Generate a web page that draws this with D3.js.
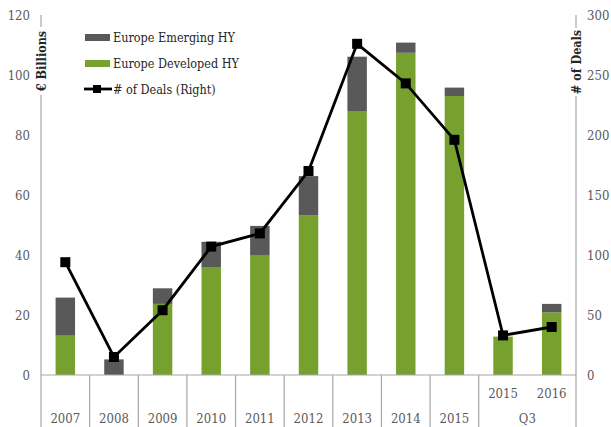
<!DOCTYPE html>
<html>
<head>
<meta charset="utf-8">
<script src="https://cdn.jsdelivr.net/npm/d3@7"></script>
<style>
  body { margin: 0; background: #fff; }
  svg { display: block; }
</style>
</head>
<body>
<script>
// chart values
const categories = ['2007', '2008', '2009', '2010', '2011', '2012', '2013', '2014', '2015', 'Q3 2015', 'Q3 2016']
const mainLabels = ['2007', '2008', '2009', '2010', '2011', '2012', '2013', '2014', '2015']
const q3Labels = ['2015', '2016']
const developed = [13.1, 0, 23.7, 35.8, 40, 53.3, 88, 107.4, 93, 12.8, 20.9]
const emerging = [12.7, 5.2, 5.2, 8.6, 9.7, 13, 18.1, 3.4, 2.8, 0, 2.8]
const deals = [94, 15, 54, 107, 118, 170, 276, 243, 196, 33, 40]
const leftTicks = [0, 20, 40, 60, 80, 100, 120]
const rightTicks = [0, 50, 100, 150, 200, 250, 300]

const W = 611, H = 427
const m = { left: 41, right: 576, top: 15, bottom: 375 }
const green = '#76a12f', grey = '#595959'
const font = "'DejaVu Serif Condensed', 'Liberation Serif', serif"

const svg = d3.select('body').append('svg')
    .attr('width', W)
    .attr('height', H)
    .style('font-family', font)

const x = d3.scaleBand().domain(categories).range([m.left, m.right]).paddingInner(0.6).paddingOuter(0.3)
const band = d3.scaleBand().domain(categories).range([m.left, m.right])
const y = d3.scaleLinear().domain([0, 120]).range([m.bottom, m.top])
const y2 = d3.scaleLinear().domain([0, 300]).range([m.bottom, m.top])

// bars
const stacked = categories.map((c, i) => ({ c, dev: developed[i], em: emerging[i] }))
svg.append('g').selectAll('rect')
    .data(stacked)
    .join('rect')
    .attr('x', d => x(d.c))
    .attr('width', x.bandwidth())
    .attr('y', d => y(d.dev))
    .attr('height', d => y(0) - y(d.dev))
    .attr('fill', green)

svg.append('g').selectAll('rect')
    .data(stacked.filter(d => d.em > 0))
    .join('rect')
    .attr('x', d => x(d.c))
    .attr('width', x.bandwidth())
    .attr('y', d => y(d.dev + d.em))
    .attr('height', d => y(d.dev) - y(d.dev + d.em))
    .attr('fill', grey)

// axes lines
svg.append('line').attr('x1', m.left).attr('x2', m.left).attr('y1', m.top).attr('y2', H)
    .attr('stroke', '#a6a6a6').attr('stroke-width', 1.2)
svg.append('line').attr('x1', m.right).attr('x2', m.right).attr('y1', m.top).attr('y2', H)
    .attr('stroke', '#a6a6a6').attr('stroke-width', 1.2)
svg.append('line').attr('x1', m.left).attr('x2', m.right).attr('y1', m.bottom).attr('y2', m.bottom)
    .attr('stroke', '#a6a6a6').attr('stroke-width', 1.2)

// category dividers (none inside the Q3 group)
const dividers = categories.slice(1).filter(c => c !== 'Q3 2016')
svg.append('g').selectAll('line')
    .data(dividers)
    .join('line')
    .attr('x1', d => band(d)).attr('x2', d => band(d))
    .attr('y1', m.bottom).attr('y2', H)
    .attr('stroke', '#a6a6a6').attr('stroke-width', 1.2)

// tick labels
const tickSize = 13
svg.append('g').selectAll('text')
    .data(leftTicks)
    .join('text')
    .attr('x', 30).attr('y', d => y(d) + 4.5)
    .attr('text-anchor', 'end')
    .attr('font-size', tickSize).attr('fill', grey)
    .text(d => d)

svg.append('g').selectAll('text')
    .data(rightTicks)
    .join('text')
    .attr('x', 587).attr('y', d => y2(d) + 4.5)
    .attr('text-anchor', 'start')
    .attr('font-size', tickSize).attr('fill', grey)
    .text(d => d)

svg.append('g').selectAll('text')
    .data(mainLabels)
    .join('text')
    .attr('x', d => band(d) + band.bandwidth() / 2).attr('y', 423)
    .attr('text-anchor', 'middle')
    .attr('font-size', tickSize).attr('fill', grey)
    .text(d => d)

svg.append('g').selectAll('text')
    .data(q3Labels)
    .join('text')
    .attr('x', d => band('Q3 ' + d) + band.bandwidth() / 2).attr('y', 398)
    .attr('text-anchor', 'middle')
    .attr('font-size', tickSize).attr('fill', grey)
    .text(d => d)

svg.append('text')
    .attr('x', band('Q3 2016')).attr('y', 423)
    .attr('text-anchor', 'middle')
    .attr('font-size', tickSize).attr('fill', grey)
    .text('Q3')

// axis titles sitting on the axis lines
const titles = [{ t: '€ Billions', cx: m.left, cy: 61 }, { t: '# of Deals', cx: m.right, cy: 62 }]
titles.forEach(d => {
    svg.append('rect').attr('x', d.cx - 8).attr('y', d.cy - 34).attr('width', 16).attr('height', 68).attr('fill', '#fff')
    svg.append('text')
        .attr('transform', `translate(${d.cx + 4.5},${d.cy}) rotate(-90)`)
        .attr('text-anchor', 'middle')
        .attr('font-size', 12.5).attr('font-weight', 'bold').attr('fill', '#262626')
        .text(d.t)
})

// deals line
const line = d3.line().x((d, i) => band(categories[i]) + band.bandwidth() / 2).y(d => y2(d))
svg.append('path')
    .datum(deals)
    .attr('d', line)
    .attr('fill', 'none').attr('stroke', '#000').attr('stroke-width', 2.8)

svg.append('g').selectAll('rect')
    .data(deals)
    .join('rect')
    .attr('x', (d, i) => band(categories[i]) + band.bandwidth() / 2 - 5)
    .attr('y', d => y2(d) - 5)
    .attr('width', 10).attr('height', 10)
    .attr('fill', '#000')

// legend
const legend = svg.append('g').attr('font-size', 12.5).attr('fill', '#262626')
legend.append('rect').attr('x', 85).attr('y', 34).attr('width', 25).attr('height', 7).attr('fill', grey)
legend.append('text').attr('x', 113).attr('y', 42).text('Europe Emerging HY')
legend.append('rect').attr('x', 85).attr('y', 60).attr('width', 25).attr('height', 7).attr('fill', green)
legend.append('text').attr('x', 113).attr('y', 68).text('Europe Developed HY')
legend.append('line').attr('x1', 84).attr('x2', 112).attr('y1', 89).attr('y2', 89).attr('stroke', '#000').attr('stroke-width', 2.8)
legend.append('rect').attr('x', 93).attr('y', 85).attr('width', 8).attr('height', 8).attr('fill', '#000')
legend.append('text').attr('x', 113).attr('y', 94).text('# of Deals (Right)')
</script>
</body>
</html>
